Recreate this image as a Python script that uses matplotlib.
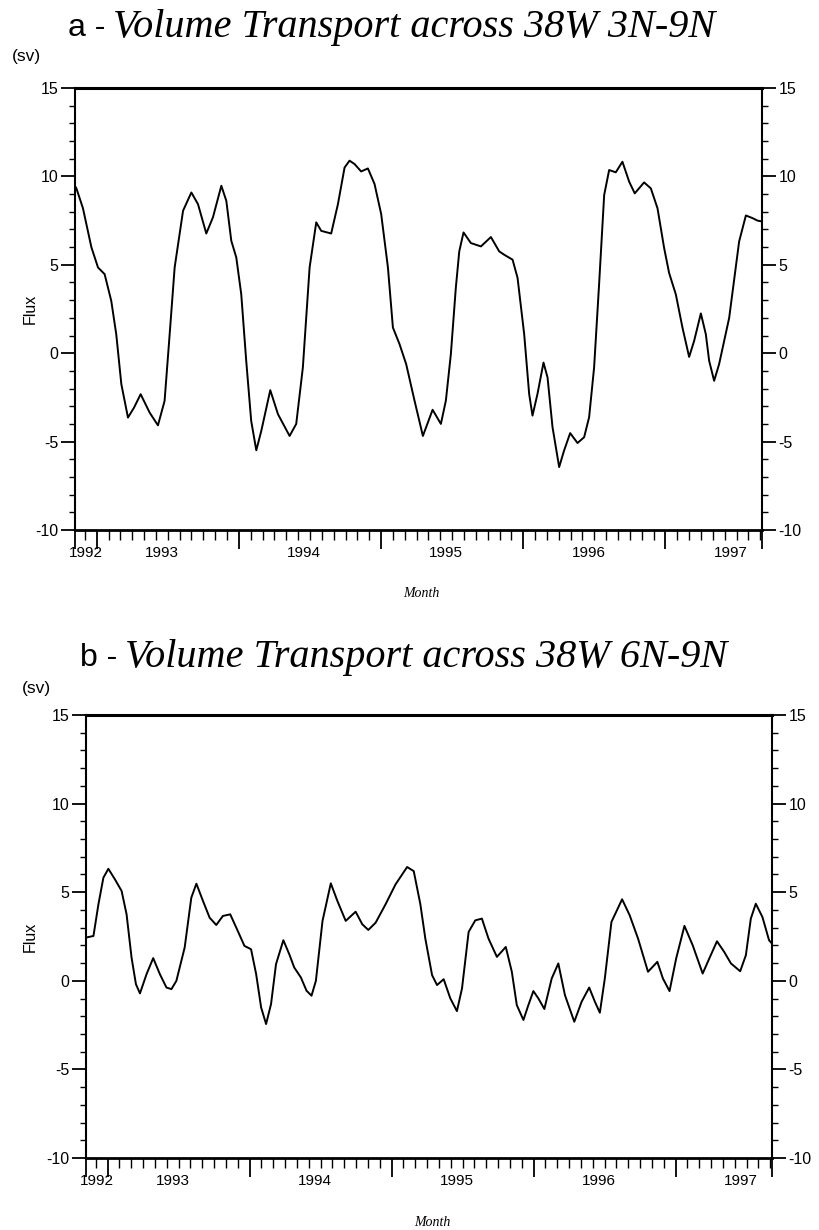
import matplotlib
matplotlib.use("Agg")
import matplotlib.pyplot as plt
import matplotlib.transforms as mtransforms

plt.rcParams["axes.unicode_minus"] = False

# ---------------- data (x = months since Jan 1993, y = Sv) ----------------
top_month = [-1.83, -1.7, -1.16, -0.45, 0.11, 0.67, 1.23, 1.65, 2.08, 2.64, 3.15, 3.71,
             4.47, 5.17, 5.73, 6.16, 6.58, 7.29, 7.99, 8.55, 9.25, 9.81, 10.52, 10.94,
             11.36, 11.78, 12.2, 12.62, 13.04, 13.47, 13.89, 14.65, 15.3, 16.28, 16.84,
             17.4, 17.97, 18.53, 18.95, 19.79, 20.36, 20.92, 21.34, 21.76, 22.32, 22.89,
             23.45, 24.01, 24.58, 25.0, 25.56, 26.12, 26.83, 27.53, 28.35, 29.05, 29.47,
             29.89, 30.31, 30.6, 30.96, 31.58, 32.43, 33.27, 33.97, 34.39, 35.1, 35.52,
             36.08, 36.5, 36.78, 37.2, 37.71, 38.05, 38.47, 39.03, 39.45, 39.96, 40.58,
             41.14, 41.56, 41.98, 42.4, 42.83, 43.25, 43.81, 44.37, 44.94, 45.41, 46.2,
             46.77, 47.33, 47.89, 48.31, 48.88, 49.44, 50.0, 50.42, 50.99, 51.41, 51.69,
             52.11, 52.53, 53.38, 54.22, 54.79, 55.35, 55.77, 56.15]
top_flux = [9.47, 9.3, 8.2, 6.0, 4.85, 4.47, 2.96, 1.08, -1.75, -3.64, -3.08, -2.32,
            -3.36, -4.08, -2.7, 1.08, 4.85, 8.06, 9.09, 8.43, 6.77, 7.68, 9.47, 8.62,
            6.36, 5.42, 3.34, -0.43, -3.83, -5.49, -4.4, -2.09, -3.45, -4.68, -4.0,
            -0.81, 4.85, 7.4, 6.92, 6.77, 8.43, 10.5, 10.89, 10.7, 10.28, 10.45,
            9.57, 7.87, 4.85, 1.45, 0.51, -0.62, -2.7, -4.68, -3.2, -4.0, -2.68,
            -0.06, 3.7, 5.76, 6.83, 6.23, 6.04, 6.57, 5.76, 5.57, 5.29, 4.26,
            1.07, -2.31, -3.53, -2.31, -0.53, -1.37, -4.18, -6.44, -5.5, -4.52, -5.08,
            -4.75, -3.62, -0.81, 3.88, 8.95, 10.36, 10.23, 10.83, 9.7, 9.04, 9.66,
            9.32, 8.2, 5.95, 4.54, 3.32, 1.44, -0.21, 0.69, 2.25, 1.07, -0.43,
            -1.56, -0.62, 2.0, 6.32, 7.79, 7.64, 7.5, 7.45]

bot_month = [-1.83, -1.2, -0.78, -0.36, 0.06, 0.62, 1.18, 1.6, 2.02, 2.39, 2.73, 3.29,
             3.85, 4.41, 4.97, 5.39, 5.81, 6.51, 7.07, 7.5, 8.06, 8.62, 9.18, 9.74,
             10.36, 11.0, 11.56, 12.12, 12.55, 12.97, 13.39, 13.81, 14.23, 14.85, 15.35,
             15.77, 16.33, 16.81, 17.23, 17.6, 18.16, 18.86, 19.42, 20.12, 20.96, 21.52,
             22.03, 22.65, 23.49, 24.33, 25.31, 25.87, 26.43, 26.85, 27.42, 27.84, 28.4,
             28.96, 29.52, 29.95, 30.51, 31.07, 31.63, 32.19, 32.9, 33.65, 34.16, 34.58,
             35.14, 35.56, 35.98, 36.4, 36.91, 37.53, 38.09, 38.65, 39.44, 40.06, 40.7,
             41.18, 41.6, 42.02, 42.58, 43.48, 44.12, 44.83, 45.67, 46.46, 46.93, 47.49,
             48.05, 48.75, 49.45, 50.29, 50.85, 51.5, 52.11, 52.68, 53.46, 53.94, 54.36,
             54.78, 55.34, 55.9, 56.15]
bot_flux = [2.44, 2.53, 4.32, 5.82, 6.32, 5.72, 5.07, 3.75, 1.31, -0.19, -0.71, 0.38,
            1.28, 0.38, -0.38, -0.47, 0.0, 1.88, 4.69, 5.48, 4.5, 3.56, 3.15, 3.66,
            3.75, 2.81, 1.97, 1.78, 0.38, -1.5, -2.44, -1.31, 0.94, 2.29, 1.5,
            0.75, 0.19, -0.56, -0.84, 0.0, 3.38, 5.5, 4.5, 3.38, 3.9, 3.19,
            2.87, 3.28, 4.32, 5.44, 6.42, 6.19, 4.32, 2.38, 0.32, -0.24, 0.09,
            -0.99, -1.71, -0.43, 2.76, 3.41, 3.51, 2.38, 1.35, 1.91, 0.51, -1.37,
            -2.21, -1.37, -0.58, -0.99, -1.59, 0.13, 0.98, -0.81, -2.31, -1.18, -0.38,
            -1.18, -1.8, 0.13, 3.32, 4.6, 3.7, 2.38, 0.51, 1.07, 0.13, -0.58,
            1.26, 3.1, 2.0, 0.41, 1.26, 2.23, 1.63, 0.98, 0.54, 1.44, 3.51,
            4.35, 3.6, 2.29, 2.1]

year_labels = ["1992", "1993", "1994", "1995", "1996", "1997"]
year_label_pos = [-0.9, 5.5, 17.5, 29.5, 41.5, 53.5]
year_starts = [0, 12, 24, 36, 48]
x_range = (-1.83, 56.15)
y_ticks = [-10, -5, 0, 5, 10, 15]

titles = [("a -", "Volume Transport across 38W 3N-9N"),
          ("b -", "Volume Transport across 38W 6N-9N")]

W, H = 819, 1230
fig = plt.figure(figsize=(W / 100, H / 100), dpi=100)

SANS = ["Liberation Sans", "DejaVu Sans"]
SERIF = ["Liberation Serif", "DejaVu Serif"]


def px(x, y):
    return x / W, 1 - y / H


def setup(ax, months, flux):
    ax.plot(months, flux, color="black", lw=1.4, solid_joinstyle="round")
    ax.set_xlim(*x_range)
    ax.set_ylim(-10, 15)
    for s in ["left", "right", "bottom"]:
        ax.spines[s].set_linewidth(1.5)
    ax.spines["top"].set_linewidth(2.2)
    ax.spines["bottom"].set_linewidth(2.0)
    ax.set_yticks(y_ticks)
    ax.set_yticks(range(-10, 16), minor=True)
    ax.tick_params(axis="y", which="major", direction="out", length=10, width=1.3,
                   labelsize=11.5, left=True, right=True, labelleft=True,
                   labelright=True, pad=2)
    ax.tick_params(axis="y", which="minor", direction="out", length=4.5, width=1.0,
                   left=True, right=True)
    ax.set_xticks([x_range[0]] + year_starts + [x_range[1]])
    ax.set_xticklabels([])
    ax.set_xticks(range(-1, 57), minor=True)
    ax.tick_params(axis="x", which="major", direction="out", length=14, width=1.3)
    ax.tick_params(axis="x", which="minor", direction="out", length=7, width=1.0)
    for lab in ax.get_yticklabels():
        lab.set_family(SANS)
    trans = mtransforms.blended_transform_factory(
        ax.transData, ax.transAxes + mtransforms.ScaledTranslation(0, -16 / 100, fig.dpi_scale_trans))
    for lab, pos in zip(year_labels, year_label_pos):
        ax.text(pos, 0, lab, transform=trans, ha="center", va="top",
                fontsize=11, family=SANS)


ax1 = fig.add_axes([75 / W, 1 - 530 / H, (762 - 75) / W, 442 / H])
setup(ax1, top_month, top_flux)
ax2 = fig.add_axes([86 / W, 1 - 1158 / H, (772 - 86) / W, 443 / H])
setup(ax2, bot_month, bot_flux)

# titles: upright sans prefix + italic serif text
for (pre, main), (xs, y) in zip(titles, [(113, 28), (125, 658)]):
    fig.text(*px(xs - 8, y), pre, ha="right", va="center", fontsize=23, family=SANS)
    fig.text(*px(xs, y), main, ha="left", va="center", fontsize=29,
             family=SERIF, style="italic")

for x, y in ((12, 57), (22, 689)):
    fig.text(*px(x, y), "(sv)", ha="left", va="center", fontsize=12.5, family=SANS)

for ax in (ax1, ax2):
    bb = ax.get_position()
    fig.text(30 / W, bb.y0 + bb.height / 2, "Flux", rotation=90, ha="center",
             va="center", fontsize=11.5, family=SANS)

for x, y in ((421, 593), (432, 1222)):
    fig.text(*px(x, y), "Month", ha="center", va="center", fontsize=10,
             family=SERIF, style="italic")

fig.savefig("out.png", dpi=100)
